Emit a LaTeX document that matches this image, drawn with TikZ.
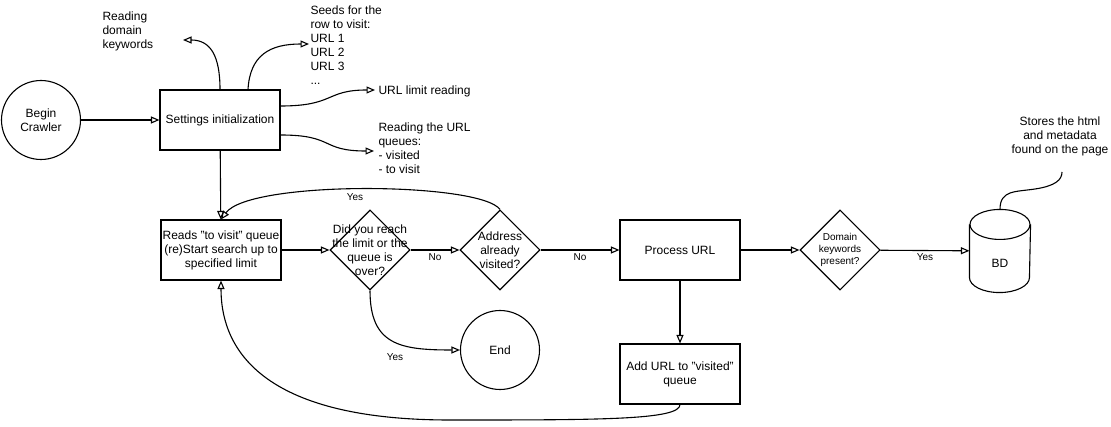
\documentclass[tikz,border=0pt]{standalone}
\usepackage{fontspec}
\setmainfont{Liberation Sans}
\usetikzlibrary{arrows.meta, shapes.geometric}

\begin{document}
\begin{tikzpicture}[->,>={Triangle[open,length=8.5pt,width=7pt]},x=1pt,y=-1pt,line width=1.1pt,
  every node/.style={font=\fontsize{12}{14}\selectfont},
  box node/.style={rectangle,draw,minimum width=120pt,minimum height=60pt,inner sep=1pt,align=center},
  round node/.style={circle,draw,minimum size=79pt,inner sep=0pt,align=center},
  choice node/.style={diamond,draw,minimum width=80pt,minimum height=80pt,inner sep=0pt},
  base node/.style={rectangle,minimum width=60pt,minimum height=82pt,inner sep=0pt},
  note/.style={align=left,inner sep=0pt},
  small/.style={font=\fontsize{10}{12}\selectfont}]

    \useasboundingbox (0,0) rectangle (1111,427);

    % main flow
    \node[round node] (begin) at (41,120) {Begin\\Crawler};
    \node[box node] (init) at (220,120) {Settings initialization};
    \node[box node] (reads) at (221,250) {Reads "to visit" queue\\(re)Start search up to\\specified limit};
    \node[choice node,label={[align=center]center:{Did you reach\\the limit or the\\queue is\\over?}}] (limit) at (370,250) {};
    \node[choice node,label={[align=center]center:{Address\\already\\visited?}}] (visited) at (500,250) {};
    \node[box node] (proc) at (680,250) {Process URL};
    \node[choice node,label={[align=center,small]center:{Domain\\keywords\\present?}}] (kw) at (840,250) {};
    \node[base node,label={[yshift=-12pt]center:BD}] (bd) at (1000,251) {};
    \node[round node] (end) at (500,350) {End};
    \node[box node] (add) at (680,374) {Add URL to "visited"\\queue};

    % database drum
    \draw[-] ([yshift=-15pt]bd.north west) -- ([yshift=15pt]bd.south west)
        arc[start angle=180,end angle=360,x radius=30pt,y radius=15pt]
        -- ([yshift=-15pt]bd.north east);
    \draw[-] ([yshift=-15pt]bd.north) ellipse [x radius=30pt,y radius=15pt];

    % notes
    \node[note,anchor=west] (kwnote) at (102,31) {Reading\\domain\\keywords};
    \node[note,anchor=north west] (seeds) at (310,5) {Seeds for the\\row to visit:\\URL 1\\URL 2\\URL 3\\...};
    \node[note,anchor=west] (limnote) at (378,91) {URL limit reading};
    \node[note,anchor=north west] (qnote) at (378,122) {Reading the URL\\queues:\\- visited\\- to visit};
    \node[note,align=center] (bdnote) at (1060,136) {Stores the html\\and metadata\\found on the page};

    % answers
    \node[small] (yes1) at (355,197) {Yes};
    \node[small] (no1) at (435,257) {No};
    \node[small] (no2) at (580,257) {No};
    \node[small] (yes2) at (395,357) {Yes};
    \node[small] (yes3) at (925,257) {Yes};

    \coordinate (kwtip) at (183,40);
    \coordinate (seedtip) at (309,44);
    \coordinate (limtip) at (375,90);
    \coordinate (qtip) at (374,151);
    \coordinate (bdtip) at (1062,172);

    \draw (begin) -- (init);
    \draw (init.north) .. controls (220,55) and (210,40) .. (kwtip);
    \draw ([xshift=28pt]init.north) .. controls (250,55) and (270,44) .. (seedtip);
    \draw ([yshift=14pt]init.east) .. controls (335,106) and (325,90) .. (limtip);
    \draw ([yshift=-15pt]init.east) .. controls (335,135) and (320,151) .. (qtip);
    \draw (init) -- (reads);
    \draw (visited.north) .. controls (480,182) and (250,180) .. (reads.north);
    \draw (reads) -- (limit);
    \draw (limit) -- (visited);
    \draw (visited) -- (proc);
    \draw (limit.south) .. controls (370,345) and (400,350) .. (end.west);
    \draw (proc) -- (kw);
    \draw (kw) -- (bd);
    \draw (proc) -- (add);
    \draw (add.south) .. controls (680,420) and (600,420) .. (450,420) .. controls (250,420) and (221,340) .. (reads.south);
    \draw[-] (bd.north) .. controls (1000,190) and (1015,192) .. (1035,189) .. controls (1055,186) and (1062,180) .. (bdtip);
\end{tikzpicture}
\end{document}
